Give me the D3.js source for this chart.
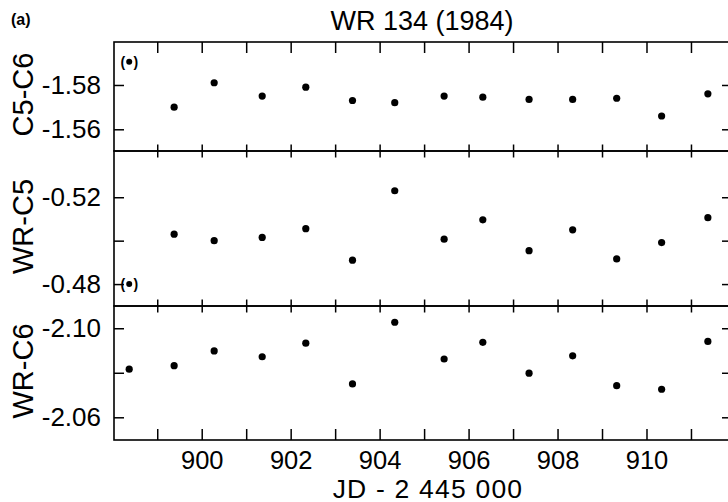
<!DOCTYPE html>
<html>
<head>
<meta charset="utf-8">
<script src="https://cdn.jsdelivr.net/npm/d3@7"></script>
<style>
  html, body { margin: 0; padding: 0; background: #fff; }
  svg { display: block; }
  text { font-family: "Liberation Sans", Arial, Helvetica, sans-serif; fill: #000; }
</style>
</head>
<body>
<svg id="chart" width="728" height="502"></svg>
<script>
// ---- data ----
const dates = [898.37, 899.38, 900.28, 901.36, 902.34, 903.39, 904.34, 905.45, 906.32, 907.36, 908.34, 909.33, 910.34, 911.38];
const c5c6  = [-1.5905, -1.5700, -1.5810, -1.5750, -1.5790, -1.5730, -1.5720, -1.5750, -1.5745, -1.5735, -1.5735, -1.5740, -1.5660, -1.5760];
const wrc5  = [-0.4800, -0.5030, -0.5000, -0.5015, -0.5055, -0.4910, -0.5230, -0.5007, -0.5096, -0.4954, -0.5050, -0.4916, -0.4991, -0.5106];
const wrc6  = [-2.0816, -2.0832, -2.0898, -2.0872, -2.0933, -2.0750, -2.1027, -2.0862, -2.0937, -2.0798, -2.0876, -2.0742, -2.0726, -2.0941];
const c5c6Bracketed = [0];
const wrc5Bracketed = [0];
const wrc6Bracketed = [];
const xTicks = [899, 900, 901, 902, 903, 904, 905, 906, 907, 908, 909, 910, 911];
const xTickLabels = ["", "900", "", "902", "", "904", "", "906", "", "908", "", "910", ""];
const c5c6Ticks = [-1.58, -1.56];
const c5c6TickLabels = ["-1.58", "-1.56"];
const wrc5Ticks = [-0.52, -0.50, -0.48];
const wrc5TickLabels = ["-0.52", "", "-0.48"];
const wrc6Ticks = [-2.10, -2.08, -2.06];
const wrc6TickLabels = ["-2.10", "", "-2.06"];
const panelTitles = ["C5-C6", "WR-C5", "WR-C6"];
const chartTitle = "WR 134 (1984)";
const xTitle = "JD - 2 445 000";
const panelTag = "(a)";

// ---- layout ----
const svg = d3.select("#chart");
svg.append("rect").attr("width", 728).attr("height", 502).attr("fill", "#fff");
const left = 114, right = 729;
const x = d3.scaleLinear().domain([898.028, 911.855]).range([left, right]);

const panels = [
  { top: 42,  bottom: 151, domain: [-1.5994, -1.5502], values: c5c6, br: c5c6Bracketed, ticks: c5c6Ticks, labels: c5c6TickLabels, title: panelTitles[0], topTick: 11, botTick: 6.5 },
  { top: 151, bottom: 306, domain: [-0.5413, -0.4699], values: wrc5, br: wrc5Bracketed, ticks: wrc5Ticks, labels: wrc5TickLabels, title: panelTitles[1], topTick: 6.5, botTick: 6.5 },
  { top: 306, bottom: 440, domain: [-2.1100, -2.0498], values: wrc6, br: wrc6Bracketed, ticks: wrc6Ticks, labels: wrc6TickLabels, title: panelTitles[2], topTick: 6.5, botTick: 11 }
];

const fontTick = 26;

panels.forEach((p, pi) => {
  const y = d3.scaleLinear().domain(p.domain).range([p.top, p.bottom]);
  const g = svg.append("g");

  // frame
  g.append("rect")
    .attr("x", left).attr("y", p.top)
    .attr("width", right - left).attr("height", p.bottom - p.top)
    .attr("fill", "none").attr("stroke", "#000").attr("stroke-width", 1.6);

  // left axis
  const yl = d3.axisLeft(y).tickValues(p.ticks)
    .tickFormat((d, i) => p.labels[i])
    .tickSizeInner(-10).tickSizeOuter(0).tickPadding(13);
  const gl = g.append("g").attr("transform", `translate(${left},0)`).call(yl);
  gl.select(".domain").remove();
  gl.selectAll("line").attr("stroke", "#000").attr("stroke-width", 1.5);
  gl.selectAll("text").attr("font-size", fontTick).attr("font-family", null).attr("fill", "#000");

  // right axis
  const yr = d3.axisRight(y).tickValues(p.ticks).tickFormat("")
    .tickSizeInner(-7).tickSizeOuter(0);
  const gr = g.append("g").attr("transform", `translate(${right},0)`).call(yr);
  gr.select(".domain").remove();
  gr.selectAll("line").attr("stroke", "#000").attr("stroke-width", 1.5);

  // top axis
  const xt = d3.axisTop(x).tickValues(xTicks).tickFormat("")
    .tickSizeInner(-p.topTick).tickSizeOuter(0);
  const gt = g.append("g").attr("transform", `translate(0,${p.top})`).call(xt);
  gt.select(".domain").remove();
  gt.selectAll("line").attr("stroke", "#000").attr("stroke-width", 1.5);

  // bottom axis
  const isLast = pi === panels.length - 1;
  const xb = d3.axisBottom(x).tickValues(xTicks)
    .tickFormat((d, i) => isLast ? xTickLabels[i] : "")
    .tickSizeInner(-p.botTick).tickSizeOuter(0);
  const gb = g.append("g").attr("transform", `translate(0,${p.bottom})`).call(xb);
  gb.select(".domain").remove();
  gb.selectAll("line").attr("stroke", "#000").attr("stroke-width", 1.5);
  gb.selectAll("text").attr("font-size", 25.5).attr("font-family", null)
    .attr("fill", "#000").attr("y", 28.5).attr("dy", "0");
  gb.selectAll(".tick").filter((d, i) => !(isLast && xTickLabels[i])).select("text").remove();

  // y title
  const cy = (p.top + p.bottom) / 2 - 2;
  svg.append("text")
    .attr("transform", `translate(33,${cy}) rotate(-90)`)
    .attr("text-anchor", "middle")
    .attr("font-size", 29)
    .text(p.title);

  // points
  const pts = dates.map((d, i) => ({ d, v: p.values[i], br: p.br.includes(i) }));
  g.selectAll("circle.pt").data(pts).join("circle")
    .attr("class", "pt")
    .attr("cx", d => x(d.d)).attr("cy", d => y(d.v))
    .attr("r", d => d.br ? 3.0 : 3.6)
    .attr("fill", "#000");
  const brs = pts.filter(d => d.br);
  brs.forEach(d => {
    g.append("text").attr("x", x(d.d) - 6.5).attr("y", y(d.v) + 5)
      .attr("text-anchor", "middle").attr("font-size", 14).attr("font-weight", "bold").text("(");
    g.append("text").attr("x", x(d.d) + 6.5).attr("y", y(d.v) + 5)
      .attr("text-anchor", "middle").attr("font-size", 14).attr("font-weight", "bold").text(")");
  });
});

// titles
svg.append("text").attr("x", 422).attr("y", 30).attr("text-anchor", "middle")
  .attr("font-size", 27).text(chartTitle);
svg.append("text").attr("x", 428).attr("y", 497.5).attr("text-anchor", "middle")
  .attr("font-size", 26.5).attr("letter-spacing", 1.2).text(xTitle);
svg.append("text").attr("x", 11).attr("y", 25)
  .attr("font-size", 16).attr("font-weight", "bold").text(panelTag);
</script>
</body>
</html>
